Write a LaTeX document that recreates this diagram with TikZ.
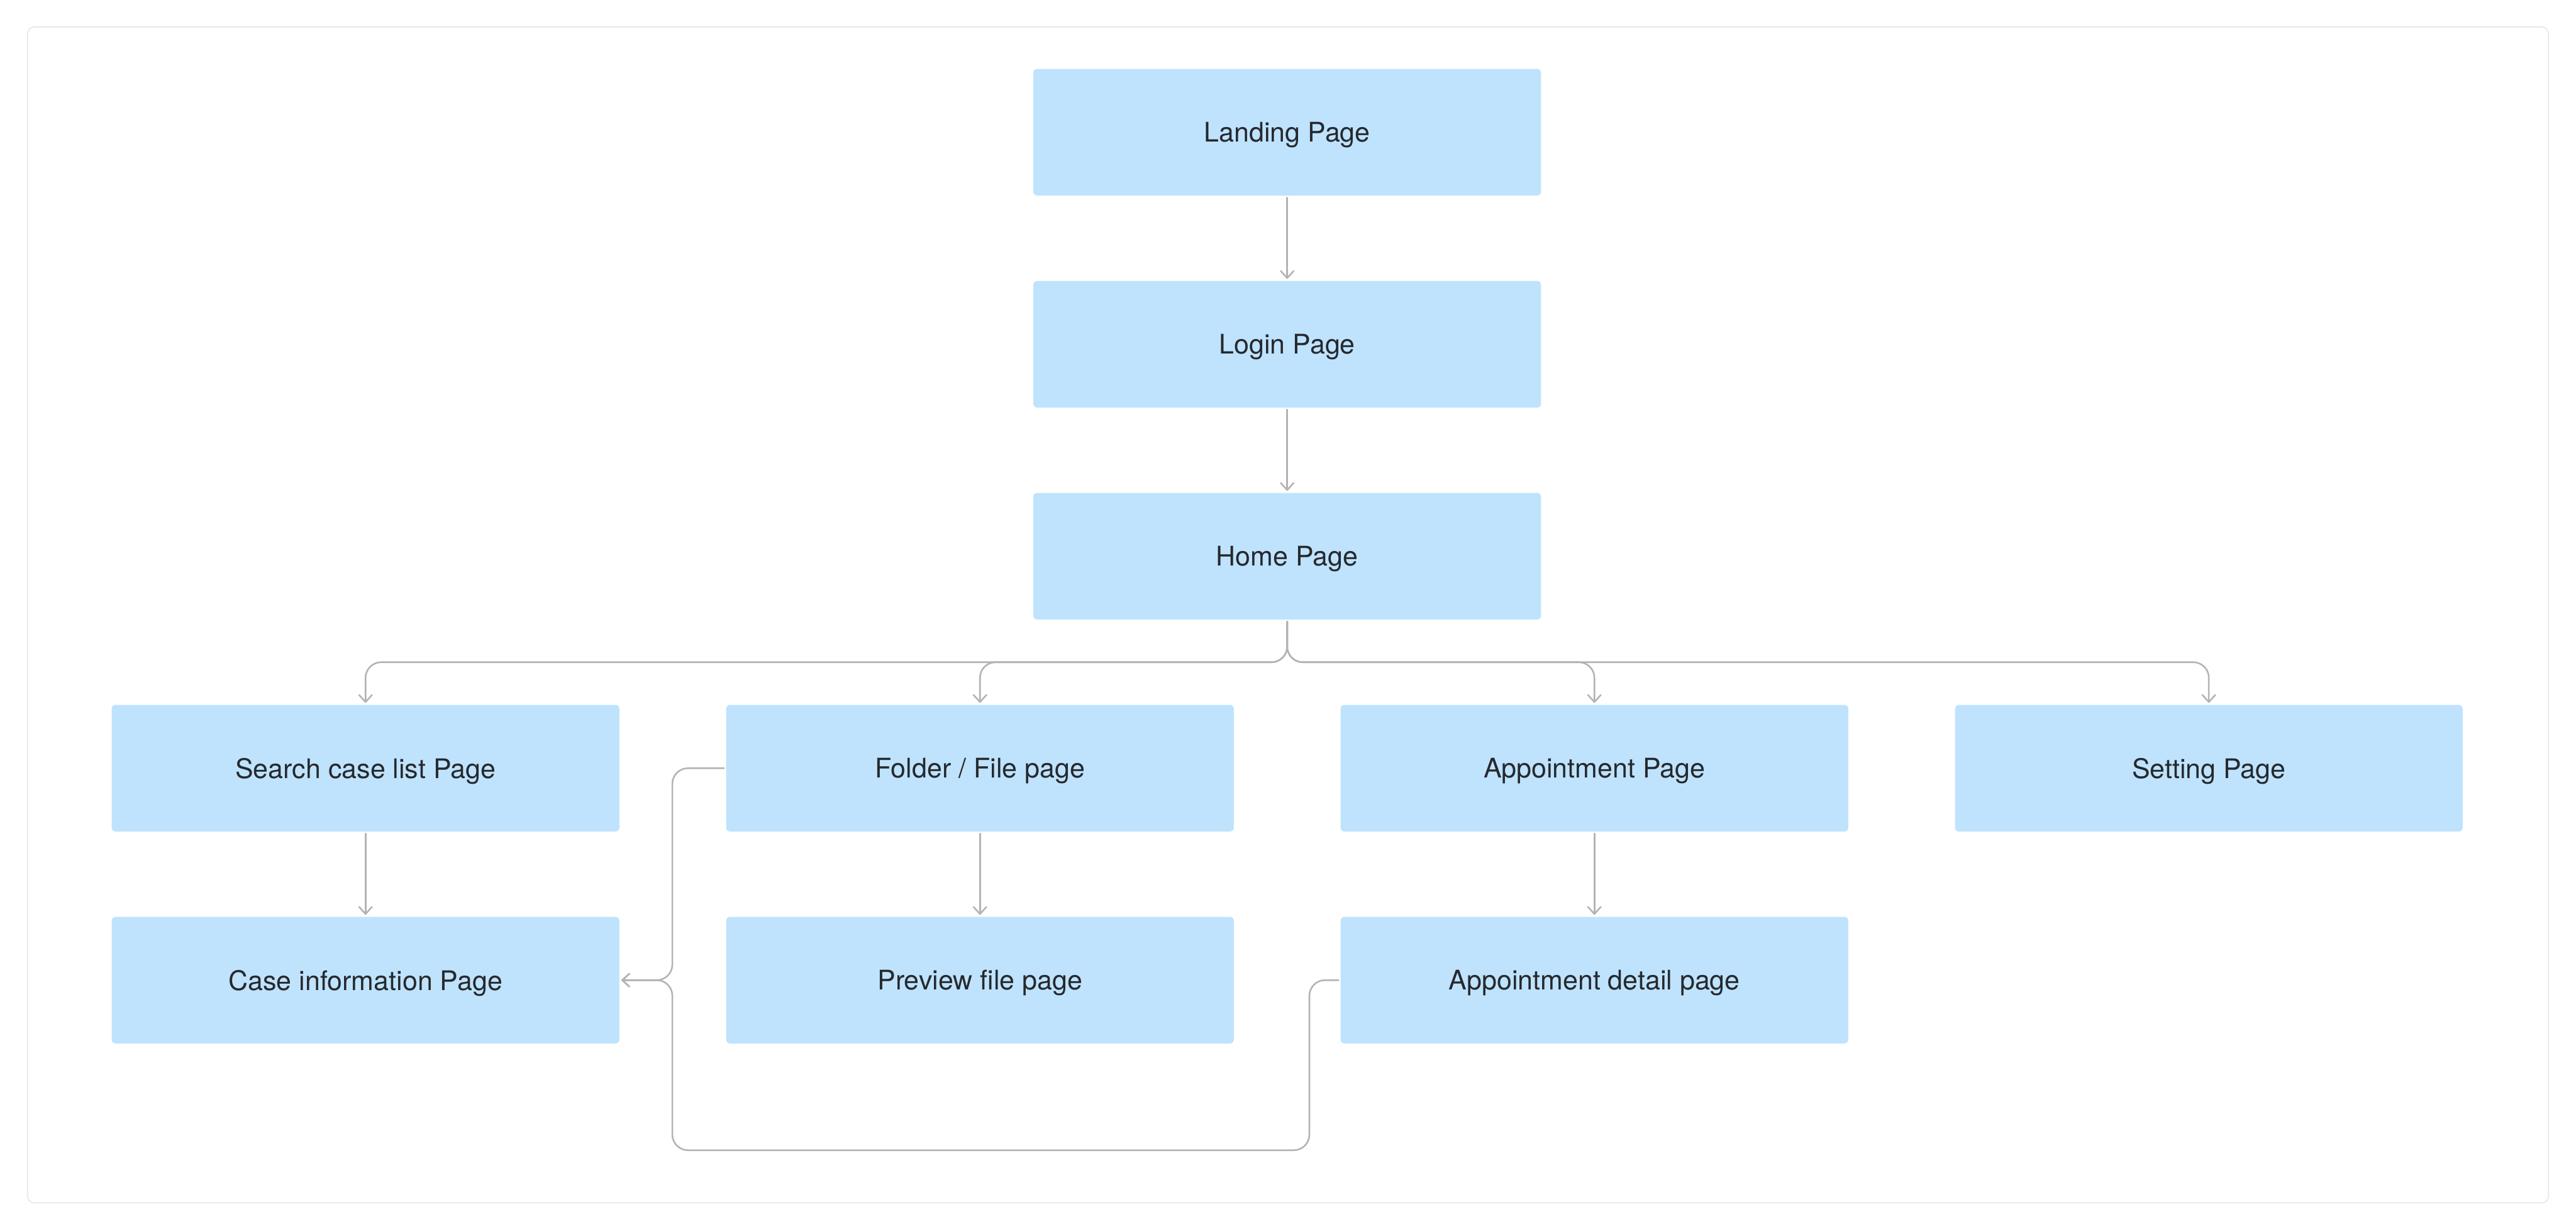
\documentclass[tikz,border=0pt]{standalone}
\usepackage{fontspec}
\setmainfont{TeX Gyre Heros}
\usepackage{tikz}
\usetikzlibrary{positioning}
\usetikzlibrary{arrows.meta}
\definecolor{boxblue}{HTML}{BFE3FD}
\definecolor{linegray}{HTML}{B3B3B3}
\definecolor{framegray}{HTML}{E5E5E5}
\definecolor{textdark}{HTML}{25292E}

\begin{document}
\begin{tikzpicture}[
		page/.style={rectangle, fill=boxblue, rounded corners=1.6pt, minimum width=7.725cm, minimum height=1.925cm,
			inner sep=0pt, outer sep=0pt, text depth=0pt, text=textdark, font=\fontsize{11.7}{14}\selectfont},
		link/.style={draw=linegray, line width=0.7pt, line cap=round, rounded corners=0.2375cm,
			shorten >=0.9pt, shorten <=0.9pt, -{Straight Barb[length=3.1pt, width=5.6pt, round]}},
		node distance=1.3cm and 1.625cm
	]
	\useasboundingbox (0,0) rectangle (39.2,-18.725);
	\draw[framegray, line width=0.4pt, rounded corners=0.1cm] (0.42,-0.41) rectangle (38.78,-18.3);

	% main chain
	\node[page] (landing) at (19.5875,-2.0125) {Landing Page};
	\node[page, below=of landing] (login) {Login Page};
	\node[page, below=of login] (home) {Home Page};

	% second row
	\node[page, below=1.3cm of home.south, anchor=north east, xshift=-0.8125cm] (folder) {Folder / File page};
	\node[page, left=of folder] (search) {Search case list Page};
	\node[page, right=of folder] (appt) {Appointment Page};
	\node[page, right=of appt] (setting) {Setting Page};

	% third row
	\node[page, below=of search] (case) {Case information Page};
	\node[page, below=of folder] (preview) {Preview file page};
	\node[page, below=of appt] (detail) {Appointment detail page};

	\coordinate (hub) at ([yshift=-0.65cm]home.south);
	\coordinate (gutter) at ([xshift=0.80625cm]case.east);

	\draw[link] (landing.south) -- (login.north);
	\draw[link] (login.south) -- (home.north);

	\draw[link] (home.south) -- (hub) -| (search.north);
	\draw[link] (home.south) -- (hub) -| (folder.north);
	\draw[link] (home.south) -- (hub) -| (appt.north);
	\draw[link] (home.south) -- (hub) -| (setting.north);

	\draw[link] (search.south) -- (case.north);
	\draw[link] (folder.south) -- (preview.north);
	\draw[link] (appt.south) -- (detail.north);

	% back to case information
	\draw[link] (folder.west) -| (gutter) -- (case.east);
	\draw[link] (detail.west) -- ++(-0.475cm,0) |- ([yshift=-2.5875cm]gutter) -- (gutter) -- (case.east);
\end{tikzpicture}
\end{document}
